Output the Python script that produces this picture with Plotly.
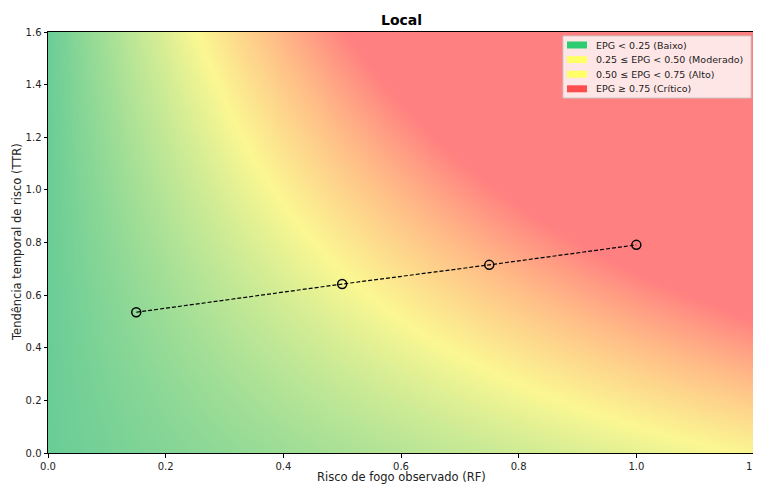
import numpy as np
import plotly.graph_objects as go

# Observed trajectory points
rf_points = [0.15, 0.50, 0.75, 1.00]
ttr_points = [0.535, 0.642, 0.715, 0.791]

# Background EPG surface parameters (EPG = scale * RF * (base + TTR)^power)
epg_scale = 0.5
epg_base = 0.9
epg_power = 1.5
rf_grid = np.linspace(0, 1.2, 241)
ttr_grid = np.linspace(0, 1.6, 321)
RF, TTR = np.meshgrid(rf_grid, ttr_grid)
epg = np.clip(epg_scale * RF * (epg_base + TTR) ** epg_power, 0, 1)

x_ticks = [0.0, 0.2, 0.4, 0.6, 0.8, 1.0, 1.2]
y_ticks = [0.0, 0.2, 0.4, 0.6, 0.8, 1.0, 1.2, 1.4, 1.6]

legend_labels = ["EPG < 0.25 (Baixo)", "0.25 ≤ EPG < 0.50 (Moderado)",
                 "0.50 ≤ EPG < 0.75 (Alto)", "EPG ≥ 0.75 (Crítico)"]
legend_colors = ["#2ecc71", "#ffff66", "#ffff66", "#ff4d4d"]

colorscale = [
    [0.0, "rgb(106,205,150)"],
    [0.25, "rgb(180,228,150)"],
    [0.5, "rgb(251,247,146)"],
    [0.75, "rgb(255,190,135)"],
    [1.0, "rgb(255,128,128)"],
]

fig = go.Figure()
fig.add_trace(go.Heatmap(x=rf_grid, y=ttr_grid, z=epg, zmin=0, zmax=1,
                         colorscale=colorscale, showscale=False,
                         zsmooth="best", hoverinfo="skip"))
fig.add_trace(go.Scatter(x=rf_points, y=ttr_points, mode="lines+markers",
                         line=dict(color="black", width=1.2, dash="4px,2px"),
                         marker=dict(symbol="circle-open", size=9,
                                     line=dict(color="black", width=1.5)),
                         showlegend=False))

font = "DejaVu Sans"
OFF = 8  # browser default body margin
W, H = 761 - OFF, 484 - OFF
# plot area in screenshot pixels: x 48..754, y 32..453
L, R, T, B = 48 - OFF, 761 - 754, 32 - OFF, 484 - 453
pw, ph = W - L - R, H - T - B

def px_to_paper(x, y):
    # x, y given in screenshot pixels
    return (x - OFF - L) / pw, 1 - (y - OFF - T) / ph

shapes = []
annotations = []
# legend box
bx0, by0 = px_to_paper(563, 36)
bx1, by1 = px_to_paper(751, 98)
shapes.append(dict(type="rect", xref="paper", yref="paper", x0=bx0, x1=bx1,
                   y0=by1, y1=by0, fillcolor="rgba(255,255,255,0.8)",
                   line=dict(color="rgba(200,200,200,0.9)", width=1)))
for i, (lab, col) in enumerate(zip(legend_labels, legend_colors)):
    cy = 45 + i * 14.6
    x0, y0 = px_to_paper(567, cy - 3.5)
    x1, y1 = px_to_paper(587, cy + 3.5)
    shapes.append(dict(type="rect", xref="paper", yref="paper", x0=x0, x1=x1,
                       y0=y1, y1=y0, fillcolor=col, line=dict(width=0)))
    tx, ty = px_to_paper(594, cy)
    annotations.append(dict(xref="paper", yref="paper", x=tx, y=ty, text=lab,
                            showarrow=False, xanchor="left", yanchor="middle",
                            font=dict(family=font, size=9.5, color="#222")))

# axis titles as annotations for exact placement
xt, yt = px_to_paper(401, 477)
annotations.append(dict(xref="paper", yref="paper", x=xt, y=yt,
                        text="Risco de fogo observado (RF)", showarrow=False,
                        xanchor="center", yanchor="middle",
                        font=dict(family=font, size=11.5, color="#222")))
xt, yt = px_to_paper(17, 242)
annotations.append(dict(xref="paper", yref="paper", x=xt, y=yt,
                        text="Tendência temporal de risco (TTR)", showarrow=False,
                        xanchor="center", yanchor="middle", textangle=-90,
                        font=dict(family=font, size=11.5, color="#222")))
xt, yt = px_to_paper(401, 20)
annotations.append(dict(xref="paper", yref="paper", x=xt, y=yt,
                        text="<b>Local</b>", showarrow=False,
                        xanchor="center", yanchor="middle",
                        font=dict(family=font, size=14, color="black")))

fig.update_layout(
    width=W, height=H,
    margin=dict(l=L, r=R, t=T, b=B, autoexpand=False),
    paper_bgcolor="white", plot_bgcolor="white",
    font=dict(family=font, size=10, color="#222"),
    shapes=shapes, annotations=annotations,
    showlegend=False,
)
fig.update_xaxes(range=[0, 1.2], tickvals=x_ticks, tickformat=".1f",
                 ticks="outside", ticklen=3.5, tickcolor="black",
                 showline=True, linecolor="black", linewidth=1, mirror=True,
                 showgrid=False, zeroline=False, automargin=False,
                 ticklabeloverflow="allow",
                 tickfont=dict(family=font, size=10))
fig.update_yaxes(range=[0, 1.6], tickvals=y_ticks, tickformat=".1f",
                 ticks="outside", ticklen=3.5, tickcolor="black",
                 showline=True, linecolor="black", linewidth=1, mirror=True,
                 showgrid=False, zeroline=False, automargin=False,
                 ticklabeloverflow="allow",
                 tickfont=dict(family=font, size=10))

fig.write_html("out.html")
